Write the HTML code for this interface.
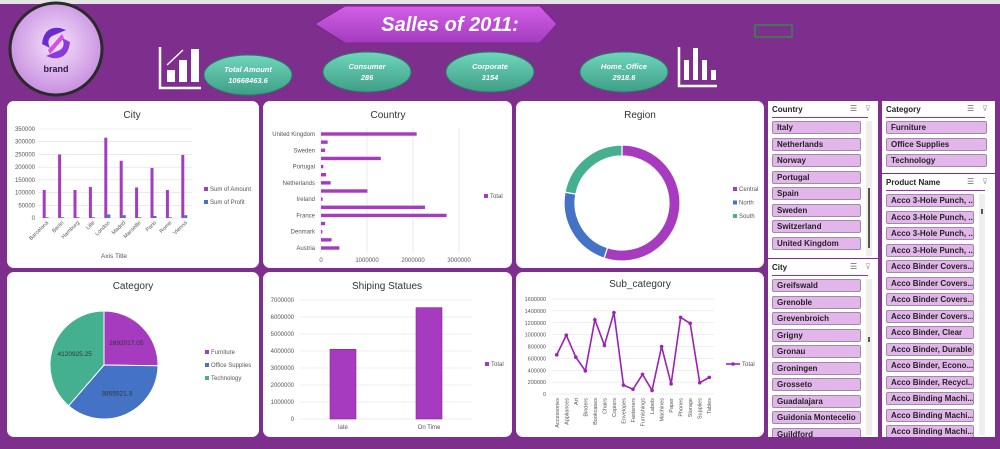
<!DOCTYPE html>
<html><head><meta charset="utf-8"><style>
body{margin:0;width:1000px;height:449px;overflow:hidden;background:#7e2e8d;font-family:"Liberation Sans",sans-serif}
svg{position:absolute;left:0;top:0}
.sl{position:absolute;background:#fff;}
.slh{position:absolute;left:4px;top:4px;font-size:8px;font-weight:bold;color:#222}
.sll{position:absolute;left:4px;right:10px;height:1px;background:#9b2fb0}
.it{position:absolute;height:13px;background:#e2b6ea;border:1px solid #a08aa5;border-radius:2px;font-size:8px;color:#222;line-height:11px;padding-left:4px;box-sizing:border-box;white-space:nowrap;overflow:hidden;font-weight:bold}
.ic{position:absolute;font-size:8px;color:#666}
.sb{position:absolute;background:#eee}
</style></head><body>
<svg id="svg" width="1000" height="449"></svg>
<div id="slicers"></div>
<script>
const NS="http://www.w3.org/2000/svg";
const svg=document.getElementById('svg');
function el(tag,attrs,parent,txt){const e=document.createElementNS(NS,tag);for(const k in attrs)e.setAttribute(k,attrs[k]);if(txt!==undefined)e.textContent=txt;(parent||svg).appendChild(e);return e;}

// ---- data ----
const cityNames=["Barcelona","Berlin","Hamburg","Lille","London","Madrid","Marseille","Paris","Rome","Vienna"];
const cityAmount=[110000,250000,110000,122000,316000,225000,120000,197000,110000,248000];
const cityProfit=[3000,3000,3000,3000,14000,11000,3000,8000,3000,11000];
const cityTicks=[0,50000,100000,150000,200000,250000,300000,350000];
const countryNames=["Austria","Belgium","Denmark","Finland","France","Germany","Ireland","Italy","Netherlands","Norway","Portugal","Spain","Sweden","Switzerland","United Kingdom"];
const countryValues=[400000,230000,30000,90000,2730000,2260000,35000,1010000,210000,110000,50000,1300000,90000,145000,2080000];
const countryTicks=[0,1000000,2000000,3000000];
const regionNames=["Central","North","South"];
const regionValues=[55,23,22];
const categoryNames=["Furniture","Office Supplies","Technology"];
const categoryValues=[2692017.05,3855521.3,4120925.25];
const shipNames=["late","On Time"];
const shipValues=[4100000,6550000];
const shipTicks=[0,1000000,2000000,3000000,4000000,5000000,6000000,7000000];
const subNames=["Accessories","Appliances","Art","Binders","Bookcases","Chairs","Copiers","Envelopes","Fasteners","Furnishings","Labels","Machines","Paper","Phones","Storage","Supplies","Tables"];
const subValues=[660000,990000,620000,390000,1250000,820000,1370000,150000,80000,330000,60000,800000,170000,1290000,1190000,190000,280000];
const subTicks=[0,200000,400000,600000,800000,1000000,1200000,1400000,1600000];

const PUR="#a63bbf",BLU="#4472c4",GRN="#44b08f";

// ---- header ----
el('rect',{x:0,y:0,width:1000,height:4,fill:"#e4e4e4"});
const defs=el('defs',{});
const rg=el('radialGradient',{id:'lg',cx:'50%',cy:'45%',r:'55%'},defs);
el('stop',{offset:'0%','stop-color':'#f4e2fb'},rg);el('stop',{offset:'100%','stop-color':'#c88ee0'},rg);
const eg=el('linearGradient',{id:'eg',x1:0,y1:0,x2:0,y2:1},defs);
el('stop',{offset:'0%','stop-color':'#6fd6bb'},eg);el('stop',{offset:'100%','stop-color':'#3e9f86'},eg);
const tg=el('linearGradient',{id:'tg',x1:0,y1:0,x2:0,y2:1},defs);
el('stop',{offset:'0%','stop-color':'#d35fe6'},tg);el('stop',{offset:'100%','stop-color':'#a33cbf'},tg);

let logo=el('circle',{cx:56,cy:49,r:46,fill:'url(#lg)',stroke:'#2b2b2b','stroke-width':3});


el('path',{d:"M42 44 Q44 26 60 28 L66 30 L52 36 Q46 40 50 48 Z",fill:"#6a2bd0"});
el('path',{d:"M70 42 Q68 60 52 58 L46 56 L60 50 Q66 46 62 38 Z",fill:"#8a38e0"});
el('path',{d:"M48 50 L62 34 L64 38 L50 54Z",fill:"#d050e8"});
el('text',{x:56,y:72,'text-anchor':'middle','font-size':9,'font-weight':'bold',fill:'#2a1a40'},svg,'brand');

let ttl=el('path',{d:"M315 24 L345 6 L540 6 L557 24 L540 43 L345 43 Z",fill:'url(#tg)',stroke:'#7a2590'});


let tt=el('text',{x:450,y:31,'text-anchor':'middle','font-size':20,'font-weight':'bold','font-style':'italic',fill:'#fff'},svg,'Salles of 2011:');



// icons
el('path',{d:"M160 47 V88 H201",fill:'none',stroke:'#fff','stroke-width':2.5});
el('rect',{x:167,y:70,width:8,height:12,fill:'#fff'});el('rect',{x:179,y:60,width:8,height:22,fill:'#fff'});el('rect',{x:191,y:49,width:8,height:33,fill:'#fff'});
el('path',{d:"M167 65 L183 50",stroke:'#fff','stroke-width':1.5});
el('path',{d:"M679 47 V86 H717",fill:'none',stroke:'#fff','stroke-width':2.5});
[[684,60],[693,48],[702,60],[711,70]].forEach(b=>el('rect',{x:b[0],y:b[1],width:5,height:80-b[1],fill:'#fff'}));
el('rect',{x:755,y:25,width:37,height:12,fill:'none',stroke:'#1fa03a','stroke-width':1.2});

const kpis=[["Total Amount","10668463.6",248,75],["Consumer","286",367,72],["Corporate","3154",490,72],["Home_Office","2918.6",624,72]];
kpis.forEach(k=>{
  const g=el('g',{});
  
  
  el('ellipse',{cx:k[2],cy:k[3],rx:44,ry:20,fill:'url(#eg)',stroke:'#2d7a66'},g);
  el('text',{x:k[2],y:k[3]-3,'text-anchor':'middle','font-size':7.5,'font-weight':'bold','font-style':'italic',fill:'#fff'},g,k[0]);
  el('text',{x:k[2],y:k[3]+8,'text-anchor':'middle','font-size':7.5,'font-weight':'bold','font-style':'italic',fill:'#fff'},g,k[1]);
});

// ---- panels ----
function panel(x,y,w,h,name,title,tx,ty){
  const g=el('g',{});
  
  
  el('rect',{x:x,y:y,width:w,height:h,rx:7,fill:'#fff'},g);
  el('text',{x:tx,y:ty,'text-anchor':'middle','font-size':10,fill:'#333'},g,title);
  return g;
}
function txt(g,x,y,s,anchor,size,rot){const a={x:x,y:y,'text-anchor':anchor||'end','font-size':size||6,fill:'#555'};if(rot)a.transform=`rotate(${rot} ${x} ${y})`;return el('text',a,g,s);}
function legend(g,x,y,color,label){el('rect',{x:x,y:y-4,width:4,height:4,fill:color},g);txt(g,x+6,y,label,'start',6);}

// City
{const g=panel(7,101,252,167,'city-chart','City',132,118);
 const y0=218,y1=129,max=350000,x0=38,x1=192;
 const ys=v=>y0-(v/max)*(y0-y1);const step=(x1-x0)/cityNames.length;
 cityTicks.forEach(t=>{el('line',{x1:x0,x2:x1,y1:ys(t),y2:ys(t),stroke:'#ddd','stroke-width':0.6},g);txt(g,x0-3,ys(t)+2,String(t));});
 cityNames.forEach((n,i)=>{const cx=x0+step*(i+0.5);
  let b=el('rect',{x:cx-3,y:ys(cityAmount[i]),width:3,height:y0-ys(cityAmount[i]),fill:PUR},g);
  
  
  let p=el('rect',{x:cx,y:ys(cityProfit[i]),width:3,height:y0-ys(cityProfit[i]),fill:BLU},g);
  
  
  txt(g,cx+3,y0+5,n,'end',5.5,-45);});
 legend(g,204,191,PUR,'Sum of Amount');legend(g,204,204,BLU,'Sum of Profit');
 let at=txt(g,114,258,'Axis Title','middle',6.5);}

// Country
{const g=panel(263,101,249,167,'country-chart','Country',388,118);
 const x0=321,xp=46,yb=248,yt=134;const ys=i=>yb-i*(yb-yt)/(countryNames.length-1);
 countryTicks.forEach((t,i)=>{const x=x0+xp*t/1000000;el('line',{x1:x,x2:x,y1:128,y2:253,stroke:'#ddd','stroke-width':0.6},g);txt(g,x,262,String(t),'middle');});
 countryNames.forEach((n,i)=>{let b=el('rect',{x:x0,y:ys(i)-1.7,width:xp*countryValues[i]/1000000,height:3.4,fill:PUR},g);
  
  
  if(i%2===0)txt(g,315,ys(i)+2,n);});
 legend(g,484,198,PUR,'Total');}

// Region donut
{const g=panel(516,101,248,167,'region-chart','Region',640,118);
 const cx=622,cy=203,R=58,r=47;let a=0;const tot=regionValues.reduce((s,v)=>s+v,0);const cols=[PUR,BLU,GRN];
 regionValues.forEach((v,i)=>{const a2=a+v/tot*2*Math.PI;const p=(ang,rad)=>[cx+rad*Math.sin(ang),cy-rad*Math.cos(ang)];
  const [x1,y1]=p(a,R),[x2,y2]=p(a2,R),[x3,y3]=p(a2,r),[x4,y4]=p(a,r);const lg=(a2-a)>Math.PI?1:0;
  let s=el('path',{d:`M${x1} ${y1} A${R} ${R} 0 ${lg} 1 ${x2} ${y2} L${x3} ${y3} A${r} ${r} 0 ${lg} 0 ${x4} ${y4}Z`,fill:cols[i],stroke:'#fff','stroke-width':1.2},g);
  
  
  legend(g,733,191+i*13.5,cols[i],regionNames[i]);a=a2;});}

// Category pie
{const g=panel(7,272,252,165,'category-chart','Category',133,289);
 const cx=104,cy=365,R=54;let a=0;const tot=categoryValues.reduce((s,v)=>s+v,0);const cols=[PUR,BLU,GRN];
 categoryValues.forEach((v,i)=>{const a2=a+v/tot*2*Math.PI;const p=ang=>[cx+R*Math.sin(ang),cy-R*Math.cos(ang)];
  const [x1,y1]=p(a),[x2,y2]=p(a2);const lg=(a2-a)>Math.PI?1:0;
  let s=el('path',{d:`M${cx} ${cy} L${x1} ${y1} A${R} ${R} 0 ${lg} 1 ${x2} ${y2}Z`,fill:cols[i],stroke:'#fff','stroke-width':1},g);
  
  
  const m=(a+a2)/2;const lb=txt(g,cx+R*0.58*Math.sin(m),cy-R*0.58*Math.cos(m)+2,String(v),'middle',6.5);lb.setAttribute('fill','#333');
  legend(g,205,354+i*13,cols[i],categoryNames[i]);a=a2;});}

// Shipping
{const g=panel(263,272,249,165,'shipping-chart','Shiping Statues',387,289);
 const y0=419,y1=300,max=7000000,x0=300,x1=472;const ys=v=>y0-(v/max)*(y0-y1);const step=(x1-x0)/shipNames.length;
 shipTicks.forEach(t=>{el('line',{x1:x0,x2:x1,y1:ys(t),y2:ys(t),stroke:'#ddd','stroke-width':0.6},g);txt(g,x0-6,ys(t)+2,String(t));});
 shipNames.forEach((n,i)=>{const cx=x0+step*(i+0.5);
  let b=el('rect',{x:cx-13,y:ys(shipValues[i]),width:26,height:y0-ys(shipValues[i]),fill:PUR,stroke:'#8a1fa8','stroke-width':0.6},g);
  
  
  txt(g,cx,429,n,'middle');});
 legend(g,485,366,PUR,'Total');}

// Sub_category
{const g=panel(516,272,248,165,'subcategory-chart','Sub_category',640,287);
 const y0=394,y1=299,max=1600000,x0=552,x1=714;const ys=v=>y0-(v/max)*(y0-y1);const step=(x1-x0)/subNames.length;
 subTicks.forEach(t=>{el('line',{x1:x0,x2:x1,y1:ys(t),y2:ys(t),stroke:'#ddd','stroke-width':0.6},g);txt(g,x0-6,ys(t)+2,String(t),'end',5.5);});
 const pts=subValues.map((v,i)=>[x0+step*(i+0.5),ys(v)]);
 let ln=el('polyline',{points:pts.map(p=>p.join(',')).join(' '),fill:'none',stroke:'#9b22b5','stroke-width':1.6},g);
 
 
 pts.forEach((p,i)=>{let c=el('circle',{cx:p[0],cy:p[1],r:1.8,fill:'#9b22b5'},g);
  
  
  txt(g,p[0]+2,y0+4,subNames[i],'end',5.5,-90);});
 el('line',{x1:726,x2:740,y1:364,y2:364,stroke:'#9b22b5','stroke-width':1.6},g);el('circle',{cx:733,cy:364,r:1.8,fill:'#9b22b5'},g);
 txt(g,742,366,'Total','start',6);}

// ---- slicers ----
const sdiv=document.getElementById('slicers');
const countryItems=["Italy","Netherlands","Norway","Portugal","Spain","Sweden","Switzerland","United Kingdom"];
const cityItems=["Greifswald","Grenoble","Grevenbroich","Grigny","Gronau","Groningen","Grosseto","Guadalajara","Guidonia Montecelio","Guildford"];
const categoryItems=["Furniture","Office Supplies","Technology"];
const productItems=["Acco 3-Hole Punch, ...","Acco 3-Hole Punch, ...","Acco 3-Hole Punch, ...","Acco 3-Hole Punch, ...","Acco Binder Covers...","Acco Binder Covers...","Acco Binder Covers...","Acco Binder Covers...","Acco Binder, Clear","Acco Binder, Durable","Acco Binder, Econo...","Acco Binder, Recycl...","Acco Binding Machi...","Acco Binding Machi...","Acco Binding Machi..."];
function slicer(x,y,w,h,title,items,itemW,scroll){
  const d=document.createElement('div');d.className='sl';
  
  
  d.style.cssText=`left:${x}px;top:${y}px;width:${w}px;height:${h}px;overflow:hidden`;
  const hd=document.createElement('div');hd.className='slh';hd.textContent=title;d.appendChild(hd);
  const i1=document.createElement('div');i1.className='ic';i1.textContent='☰';i1.style.cssText=`left:${w-28}px;top:3px`;d.appendChild(i1);
  const i2=document.createElement('div');i2.className='ic';i2.textContent='⊽';i2.style.cssText=`left:${w-13}px;top:3px;color:#aaa`;d.appendChild(i2);
  const ln=document.createElement('div');ln.className='sll';ln.style.top='16px';d.appendChild(ln);
  if(scroll){const sb=document.createElement('div');sb.className='sb';sb.style.cssText=`left:${itemW+9}px;top:20px;width:6px;height:${h-22}px`;d.appendChild(sb);
    const th=document.createElement('div');th.style.cssText=`position:absolute;left:${itemW+11}px;top:${scroll[0]}px;width:1.5px;height:${scroll[1]}px;background:#555`;d.appendChild(th);}
  items.forEach((s,i)=>{const it=document.createElement('div');it.className='it';
    
    
    it.textContent=s;it.style.cssText=`left:4px;top:${20+i*16.5}px;width:${itemW}px`;d.appendChild(it);});
  sdiv.appendChild(d);}
slicer(768,101,110,157,'Country',countryItems,89,[87,60]);
slicer(768,259,110,178,'City',cityItems,89,[78,5]);
slicer(882,101,113,72,'Category',categoryItems,101,null);
slicer(882,174,113,263,'Product Name',productItems,88,[35,5]);
</script>
</body></html>
